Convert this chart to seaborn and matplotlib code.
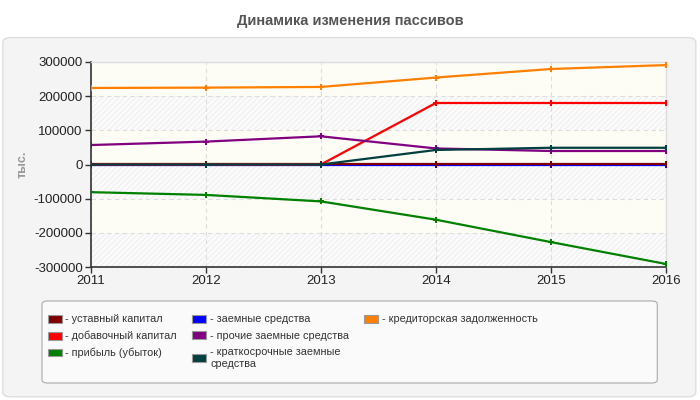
import pandas as pd
import matplotlib
matplotlib.use('Agg')
import matplotlib.pyplot as plt
import seaborn as sns
from matplotlib.patches import FancyBboxPatch, Patch

years = [2011, 2012, 2013, 2014, 2015, 2016]

series_names = [
    'уставный капитал',
    'добавочный капитал',
    'прибыль (убыток)',
    'заемные средства',
    'прочие заемные средства',
    'краткосрочные заемные\nсредства',
    'кредиторская задолженность',
]
ustav = [10, 10, 10, 10, 10, 10]
dobav = [0, 0, 0, 180000, 180000, 180000]
pribyl = [-81000, -89000, -108000, -161500, -227000, -291000]
zaem = [0, 0, 0, 0, 0, 0]
prochie = [57000, 67000, 82500, 47000, 39500, 39500]
kratko = [0, 0, 0, 42500, 49000, 49000]
kredit = [224000, 225000, 227000, 254500, 279500, 291000]
values = [ustav, dobav, pribyl, zaem, prochie, kratko, kredit]

colors = ['#800000', '#ff0000', '#008000', '#0000ff', '#800080', '#004040', '#ff8000']
y_ticks = [-300000, -200000, -100000, 0, 100000, 200000, 300000]

rows = []
for name, vals in zip(series_names, values):
    for yr, v in zip(years, vals):
        rows.append({'year': yr, 'value': v, 'series': name})
df = pd.DataFrame(rows)

palette = dict(zip(series_names, colors))
# blue line sits underneath the others (hidden at zero in the original)
draw_order = [series_names[3]] + [n for n in series_names if n != series_names[3]]

sns.set_style('white')
plt.rcParams['font.family'] = ['Liberation Sans', 'DejaVu Sans']
plt.rcParams['hatch.linewidth'] = 0.6

fig = plt.figure(figsize=(7, 4), dpi=100)
fig.patch.set_facecolor('white')

# grey rounded panel behind everything
panel = FancyBboxPatch((0.004, 0.008), 0.99, 0.898, boxstyle='round,pad=0,rounding_size=0.012',
                       transform=fig.transFigure, facecolor='#f4f4f4', edgecolor='#dedede',
                       linewidth=1, zorder=-10)
fig.patches.append(panel)

fig.text(0.5, 0.948, 'Динамика изменения пассивов', ha='center', va='center',
         fontsize=10.5, fontweight='bold', color='#555555')

ax = fig.add_axes([0.13, 0.3325, 0.821, 0.5125])
ax.set_facecolor('#fdfdf6')

# alternating bands
for i, lo in enumerate(y_ticks[:-1]):
    if i % 2 == 0:
        ax.axhspan(lo, lo + 100000, facecolor='#fbfbfb', edgecolor='#ececec',
                   hatch='//////', linewidth=0, zorder=0)
    else:
        ax.axhspan(lo, lo + 100000, facecolor='#fdfdf6', linewidth=0, zorder=0)

sns.lineplot(data=df, x='year', y='value', hue='series', hue_order=draw_order,
             palette=palette, marker='P', markersize=4, markeredgewidth=0,
             linewidth=1.6, legend=False, ax=ax, zorder=3)

ax.set_xlim(2011, 2016)
ax.set_ylim(-300000, 300000)
ax.set_xticks(years)
ax.set_yticks(y_ticks)
ax.set_xticklabels([str(y) for y in years], fontsize=9.5, color='#222222')
ax.set_yticklabels([str(v) for v in y_ticks], fontsize=9.5, color='#222222')
ax.set_xlabel('')
ax.set_ylabel('тыс.', fontsize=9, fontweight='bold', color='#999999')
ax.yaxis.set_label_coords(-0.108, 0.5)
ax.grid(True, color='#dddddd', linestyle=(0, (4, 3)), linewidth=0.8, zorder=1)
ax.set_axisbelow(True)
ax.tick_params(axis='both', which='both', length=4, width=1, color='#333333',
               direction='out', left=True, bottom=True, pad=2)
for side in ['top', 'right']:
    ax.spines[side].set_color('#dddddd')
    ax.spines[side].set_linewidth(1)
for side in ['left', 'bottom']:
    ax.spines[side].set_color('#333333')
    ax.spines[side].set_linewidth(1.2)

# legend box
lbox = FancyBboxPatch((0.06, 0.0425), 0.879, 0.205, boxstyle='round,pad=0,rounding_size=0.008',
                      transform=fig.transFigure, facecolor='#fafafa', edgecolor='#aaaaaa',
                      linewidth=0.8, zorder=-5)
fig.patches.append(lbox)

handles = [Patch(facecolor=c, edgecolor='#999999', linewidth=0.8) for c in colors]
labels = ['- ' + n for n in series_names]
# two empty slots so the last column holds only one entry
handles += [Patch(facecolor='none', edgecolor='none'), Patch(facecolor='none', edgecolor='none')]
labels += ['', '']
leg = fig.legend(handles, labels, loc='upper left', bbox_to_anchor=(0.068, 0.214),
                 ncol=3, frameon=False, handlelength=1.3, handleheight=0.75,
                 handletextpad=0.35, columnspacing=1.4, labelspacing=0.6,
                 borderaxespad=0, borderpad=0.0,
                 prop={'family': ['Liberation Sans', 'DejaVu Sans'], 'size': 7.8})
for t in leg.get_texts():
    t.set_color('#333333')

fig.savefig('out.png', dpi=100, facecolor='white')
